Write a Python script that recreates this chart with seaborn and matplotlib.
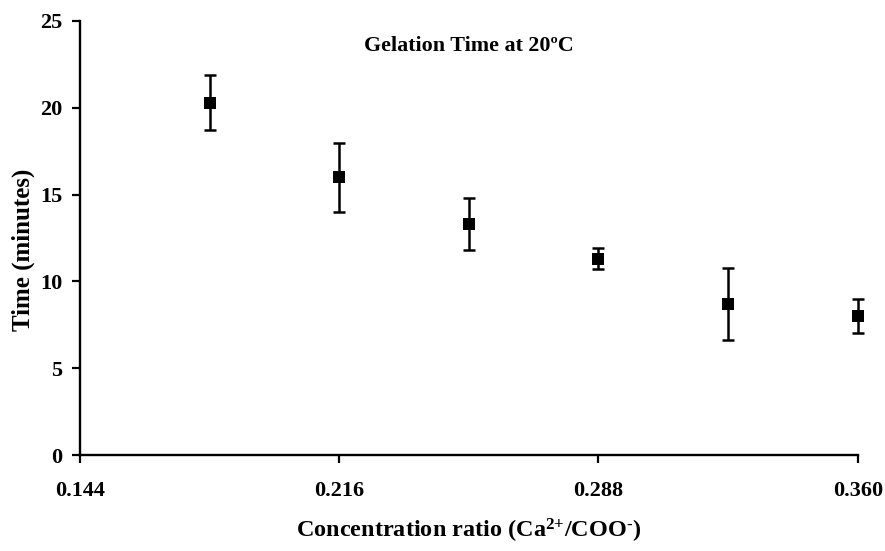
import matplotlib
matplotlib.use("Agg")
import matplotlib.pyplot as plt
import seaborn as sns
import pandas as pd

# Data
ratio = [0.180, 0.216, 0.252, 0.288, 0.324, 0.360]
time_min = [20.3, 16.0, 13.3, 11.3, 8.7, 8.0]
time_err = [1.57, 2.0, 1.5, 0.6, 2.1, 1.0]
x_ticks = [0.144, 0.216, 0.288, 0.360]
x_tick_labels = ["0.144", "0.216", "0.288", "0.360"]
y_ticks = [0, 5, 10, 15, 20, 25]

df = pd.DataFrame({"ratio": ratio, "time": time_min, "err": time_err})

sns.set_theme(style="ticks")
plt.rcParams["font.family"] = ["Liberation Serif", "DejaVu Serif"]
plt.rcParams["font.weight"] = "bold"
plt.rcParams["text.color"] = "black"
plt.rcParams["axes.labelcolor"] = "black"
plt.rcParams["xtick.color"] = "black"
plt.rcParams["ytick.color"] = "black"
plt.rcParams["mathtext.fontset"] = "custom"
plt.rcParams["mathtext.rm"] = "Liberation Serif:bold"
plt.rcParams["mathtext.bf"] = "Liberation Serif:bold"
plt.rcParams["mathtext.it"] = "Liberation Serif:bold:italic"

fig = plt.figure(figsize=(8.85, 5.51), dpi=100)
ax = fig.add_axes([0.0904, 0.1742, 0.9692 - 0.0904, 0.9619 - 0.1742])

ax.errorbar(df["ratio"], df["time"], yerr=df["err"], fmt="none",
            ecolor="black", elinewidth=1.8, capsize=4.3, capthick=1.8,
            zorder=2, clip_on=False)
sns.scatterplot(data=df, x="ratio", y="time", marker="s", s=78,
                color="black", edgecolor="black", linewidth=0,
                ax=ax, zorder=3, clip_on=False)

ax.set_xlim(0.144, 0.360)
ax.set_ylim(0, 25)
ax.set_xticks(x_ticks)
ax.set_xticklabels(x_tick_labels)
ax.set_yticks(y_ticks)

for s in ["top", "right"]:
    ax.spines[s].set_visible(False)
for s in ["left", "bottom"]:
    ax.spines[s].set_linewidth(1.7)
    ax.spines[s].set_color("black")

ax.tick_params(axis="x", direction="out", length=5.5, width=1.6,
               pad=13, labelsize=16, colors="black")
ax.tick_params(axis="y", direction="out", length=5.5, width=1.6,
               pad=7, labelsize=16, colors="black")
for lab in ax.get_xticklabels() + ax.get_yticklabels():
    lab.set_fontweight("bold")

ax.set_xlabel(r"Concentration ratio (Ca$^{\text{2+}}$/COO$^{\text{-}}$)",
              fontsize=17.5, fontweight="bold", color="black")
ax.set_ylabel("Time (minutes)", fontsize=18, fontweight="bold", color="black")
ax.xaxis.set_label_coords(0.5, -0.142)
ax.yaxis.set_label_coords(-0.058, 0.472)

ax.text(0.5, 0.9435, "Gelation Time at 20ºC", transform=ax.transAxes,
        ha="center", va="center", fontsize=15.8, fontweight="bold",
        color="black")

ax.grid(False)
fig.savefig("out.png", dpi=100)
